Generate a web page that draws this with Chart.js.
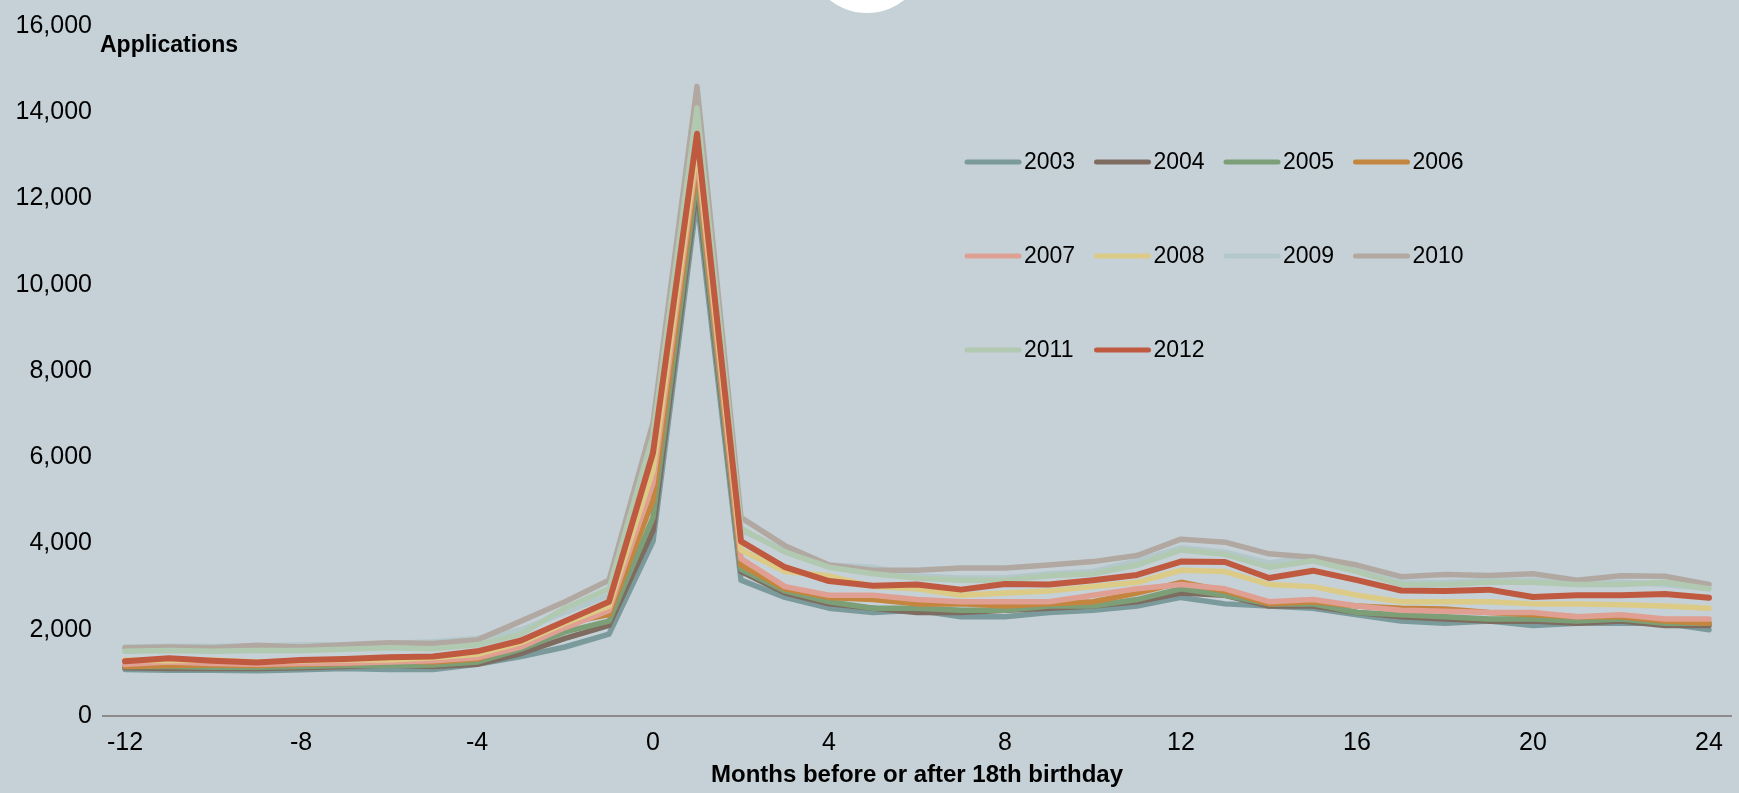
<!DOCTYPE html>
<html>
<head>
<meta charset="utf-8">
<script src="https://cdn.jsdelivr.net/npm/chart.js@4.4.1/dist/chart.umd.min.js"></script>
<style>
  html, body { margin: 0; padding: 0; background: #c5d1d7; }
  #wrap { position: relative; width: 1739px; height: 793px; }
</style>
</head>
<body>
<div id="wrap"><canvas id="chart"></canvas></div>
<script>
// months relative to 18th birthday
const months = [];
for (let m = -12; m <= 24; m++) months.push(m);
const xTickLabels = ["-12", "-8", "-4", "0", "4", "8", "12", "16", "20", "24"];
const yTicks = [0, 2000, 4000, 6000, 8000, 10000, 12000, 14000, 16000];

const years = ["2003", "2004", "2005", "2006", "2007", "2008", "2009", "2010", "2011", "2012"];
const colors = ["#7b9a9c", "#7e6c60", "#7d9f78", "#c4853f", "#e09f93", "#dccb86", "#b4c8cb", "#b1a8a2", "#b1c9b0", "#bf5a40"];

const s2003 = [1080,1060,1060,1050,1070,1100,1080,1080,1200,1380,1600,1900,4050,12000,3150,2750,2500,2400,2450,2300,2300,2400,2450,2550,2750,2600,2550,2500,2350,2200,2150,2200,2100,2150,2150,2150,2000];
const s2004 = [1120,1100,1100,1100,1120,1150,1180,1150,1200,1450,1800,2100,4300,12300,3350,2850,2600,2500,2400,2400,2450,2500,2550,2650,2850,2800,2550,2550,2400,2300,2250,2200,2200,2150,2200,2100,2100];
const s2005 = [1150,1150,1130,1130,1150,1170,1170,1180,1250,1550,1950,2200,4600,12500,3400,2900,2650,2500,2500,2450,2450,2550,2550,2700,2950,2800,2600,2600,2400,2350,2300,2250,2250,2200,2250,2150,2150];
const s2006 = [1150,1170,1180,1170,1200,1220,1280,1250,1320,1650,2150,2350,5000,12800,3500,2950,2750,2700,2600,2600,2550,2600,2650,2850,3100,2900,2600,2650,2550,2500,2480,2400,2350,2300,2300,2200,2150];
const s2007 = [1200,1250,1220,1200,1220,1230,1250,1280,1350,1600,2050,2450,5400,13000,3650,3000,2800,2800,2700,2650,2650,2650,2800,2950,3050,2950,2650,2700,2550,2450,2430,2400,2400,2300,2350,2250,2250];
const s2008 = [1300,1280,1300,1250,1280,1300,1300,1350,1430,1700,2150,2550,5700,13200,3850,3350,3250,3000,2950,2800,2850,2900,3000,3100,3380,3350,3050,3000,2800,2650,2650,2650,2600,2600,2580,2550,2500];
const s2009 = [1600,1620,1620,1620,1650,1650,1680,1720,1800,2000,2400,2800,6300,13800,4300,3850,3500,3450,3250,3200,3200,3300,3350,3600,3900,3800,3550,3700,3450,3100,3100,3150,3150,3050,3100,3050,2950];
const s2010 = [1580,1600,1580,1640,1600,1650,1700,1680,1760,2200,2650,3150,6800,14600,4600,3950,3500,3380,3380,3430,3430,3500,3580,3720,4100,4030,3760,3680,3500,3230,3280,3260,3300,3150,3250,3240,3050];
const s2011 = [1500,1520,1500,1520,1520,1550,1580,1560,1650,1900,2500,2950,6500,14100,4350,3800,3450,3300,3200,3150,3150,3250,3300,3500,3850,3750,3450,3600,3350,3050,3050,3100,3100,3050,3050,3100,2950];
const s2012 = [1270,1340,1280,1240,1300,1320,1360,1380,1500,1750,2200,2650,6100,13500,4050,3450,3130,3020,3050,2930,3060,3050,3150,3270,3580,3570,3200,3370,3150,2910,2900,2930,2760,2800,2800,2830,2740];

const series = [s2003, s2004, s2005, s2006, s2007, s2008, s2009, s2010, s2011, s2012];
const FONT = "'Liberation Sans', Arial, sans-serif";

// legend drawn inside the plot, 4 per row
const legendInside = {
  id: "legendInside",
  afterDraw(chart) {
    const ctx = chart.ctx;
    ctx.save();
    ctx.font = "23px " + FONT;
    ctx.textBaseline = "middle";
    ctx.lineCap = "round";
    chart.data.datasets.forEach((ds, i) => {
      const col = i % 4, row = Math.floor(i / 4);
      const x = 967 + col * 129.5;
      const y = 162 + row * 94;
      ctx.strokeStyle = ds.borderColor;
      ctx.lineWidth = 5;
      ctx.beginPath();
      ctx.moveTo(x, y);
      ctx.lineTo(x + 52, y);
      ctx.stroke();
      ctx.fillStyle = "#000";
      ctx.fillText(ds.label, x + 57, y + 1);
    });
    // y axis caption
    ctx.font = "bold 23px " + FONT;
    ctx.fillText("Applications", 100, 46);
    // white disc at the top edge
    ctx.fillStyle = "#ffffff";
    ctx.beginPath();
    ctx.arc(867, -47, 60, 0, Math.PI * 2);
    ctx.fill();
    ctx.restore();
  }
};

new Chart(document.getElementById("chart"), {
  type: "line",
  data: {
    labels: months,
    datasets: years.map((y, i) => ({
      label: y,
      data: series[i],
      borderColor: colors[i],
      borderWidth: i === 9 ? 6 : 5.5,
      borderJoinStyle: "round",
      borderCapStyle: "round",
      pointRadius: 0,
      tension: 0,
      order: years.length - i,
    })),
  },
  options: {
    responsive: true,
    maintainAspectRatio: false,
    animation: false,
    layout: { padding: { top: 13, right: 8, bottom: 0, left: 0 } },
    scales: {
      x: {
        offset: true,
        afterFit: axis => { axis.height = 77; },
        grid: { display: false, drawTicks: false },
        border: { color: "#8c8c8c", width: 2 },
        ticks: {
          autoSkip: false,
          maxRotation: 0,
          padding: 12,
          color: "#000",
          font: { family: FONT, size: 25 },
          callback: (v, i) => xTickLabels.includes(String(months[i])) ? String(months[i]) : "",
        },
        title: {
          display: true,
          text: "Months before or after 18th birthday",
          color: "#000",
          font: { family: FONT, size: 24, weight: "bold" },
          padding: { top: 0, bottom: 3 },
        },
      },
      y: {
        min: 0,
        max: 16000,
        afterBuildTicks: axis => { axis.ticks = yTicks.map(v => ({ value: v })); },
        afterFit: axis => { axis.width = 103; },
        grid: { display: false, drawTicks: false },
        border: { display: false },
        ticks: {
          padding: 11,
          color: "#000",
          font: { family: FONT, size: 25 },
          callback: v => v.toLocaleString("en-US"),
        },
      },
    },
    plugins: {
      legend: { display: false },
      tooltip: { enabled: false },
    },
  },
  plugins: [legendInside],
});
</script>
</body>
</html>
